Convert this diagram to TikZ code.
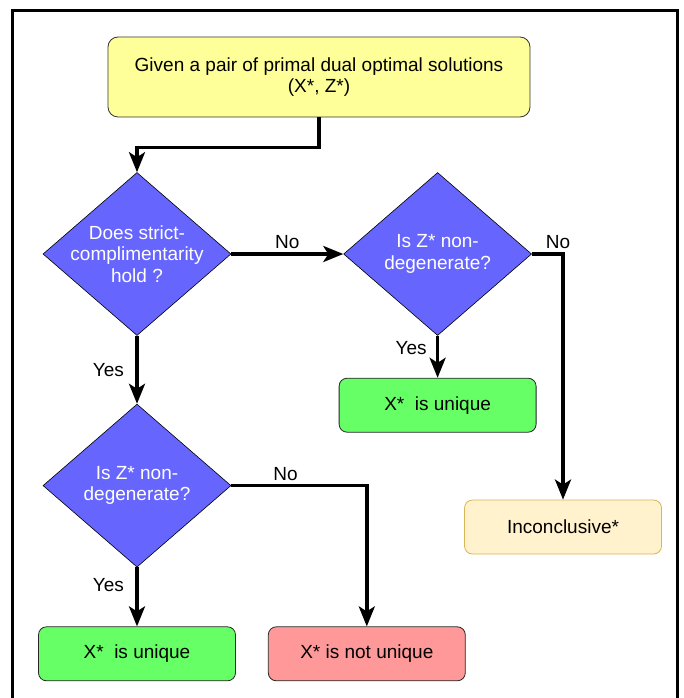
\documentclass[tikz,border=0pt]{standalone}
\usepackage{fontspec}
\setmainfont{Liberation Sans}
\usetikzlibrary{positioning,shapes.geometric,arrows.meta}
\definecolor{startfill}{HTML}{FFFF99}
\definecolor{decfill}{HTML}{6666FF}
\definecolor{yesfill}{HTML}{66FF66}
\definecolor{nofill}{HTML}{FF9999}
\definecolor{incfill}{HTML}{FFF2CC}
\definecolor{incdraw}{HTML}{D6B656}
\newcommand{\chartfont}{\fontsize{19pt}{21.5pt}\selectfont}
\tikzset{startbox/.style={
  shape=rectangle,
  rounded corners=10pt,
  draw=black!80,
  fill=startfill,
  line width=0.8pt,
  minimum width=422pt,
  minimum height=80pt,
  align=center,
  },
  decision/.style={
  shape=diamond,
  shape aspect=1.15,
  draw=black,
  fill=decfill,
  text=white,
  line width=0.6pt,
  inner sep=-4pt,
  minimum width=188pt,
  minimum height=163pt,
  align=center,
  },
  resultbox/.style={
  shape=rectangle,
  rounded corners=8pt,
  draw=black!85,
  line width=0.8pt,
  minimum width=197pt,
  minimum height=54pt,
  },
  flow/.style={
  -{Stealth[length=20pt,width=16pt,inset=5pt]},
  line width=3.4pt,
  },
  }

\begin{document}
\begin{tikzpicture}[x=1pt,y=-1pt,every node/.style={font=\chartfont}]
  \useasboundingbox (0,0) rectangle (683,698);
  % frame, cut at the bottom
  \draw[line width=3pt] (12,698) -- (12,11) -- (677,11) -- (677,698);

  \node[startbox] at (319,77) (start) {Given a pair of primal dual optimal solutions\\(X*, Z*)};
  \node[decision] at (137,254) (d1) {Does strict-\\complimentarity\\hold ?};
  \node[decision, right=112pt of d1] (d2) {Is Z* non-\\degenerate?};
  \node[decision, below=68pt of d1] (d3) {Is Z* non-\\degenerate?};
  \node[resultbox, fill=yesfill, below=42pt of d2] (ok2) {X*~ is unique};
  \node[resultbox, fill=incfill, draw=incdraw] at (563,527) (inc) {Inconclusive*};
  \node[resultbox, fill=yesfill, below=59pt of d3] (ok1) {X*~ is unique};
  \node[resultbox, fill=nofill, right=32pt of ok1] (bad) {X* is not unique};

  \draw[flow] (start.south) -- ++(0pt,-30pt) -| (d1.north);
  \draw[flow] (d1.east) -- node[above] {No} (d2.west);
  \draw[flow] (d2.east) -| node[pos=0.42, above] {No} (inc.north);
  \draw[flow] (d2.south) -- node[pos=0.3, left=6pt] {Yes} (ok2.north);
  \draw[flow] (d1.south) -- node[left=8pt] {Yes} (d3.north);
  \draw[flow] (d3.east) -| node[pos=0.2, above] {No} (bad.north);
  \draw[flow] (d3.south) -- node[pos=0.3, left=8pt] {Yes} (ok1.north);
\end{tikzpicture}
\end{document}
